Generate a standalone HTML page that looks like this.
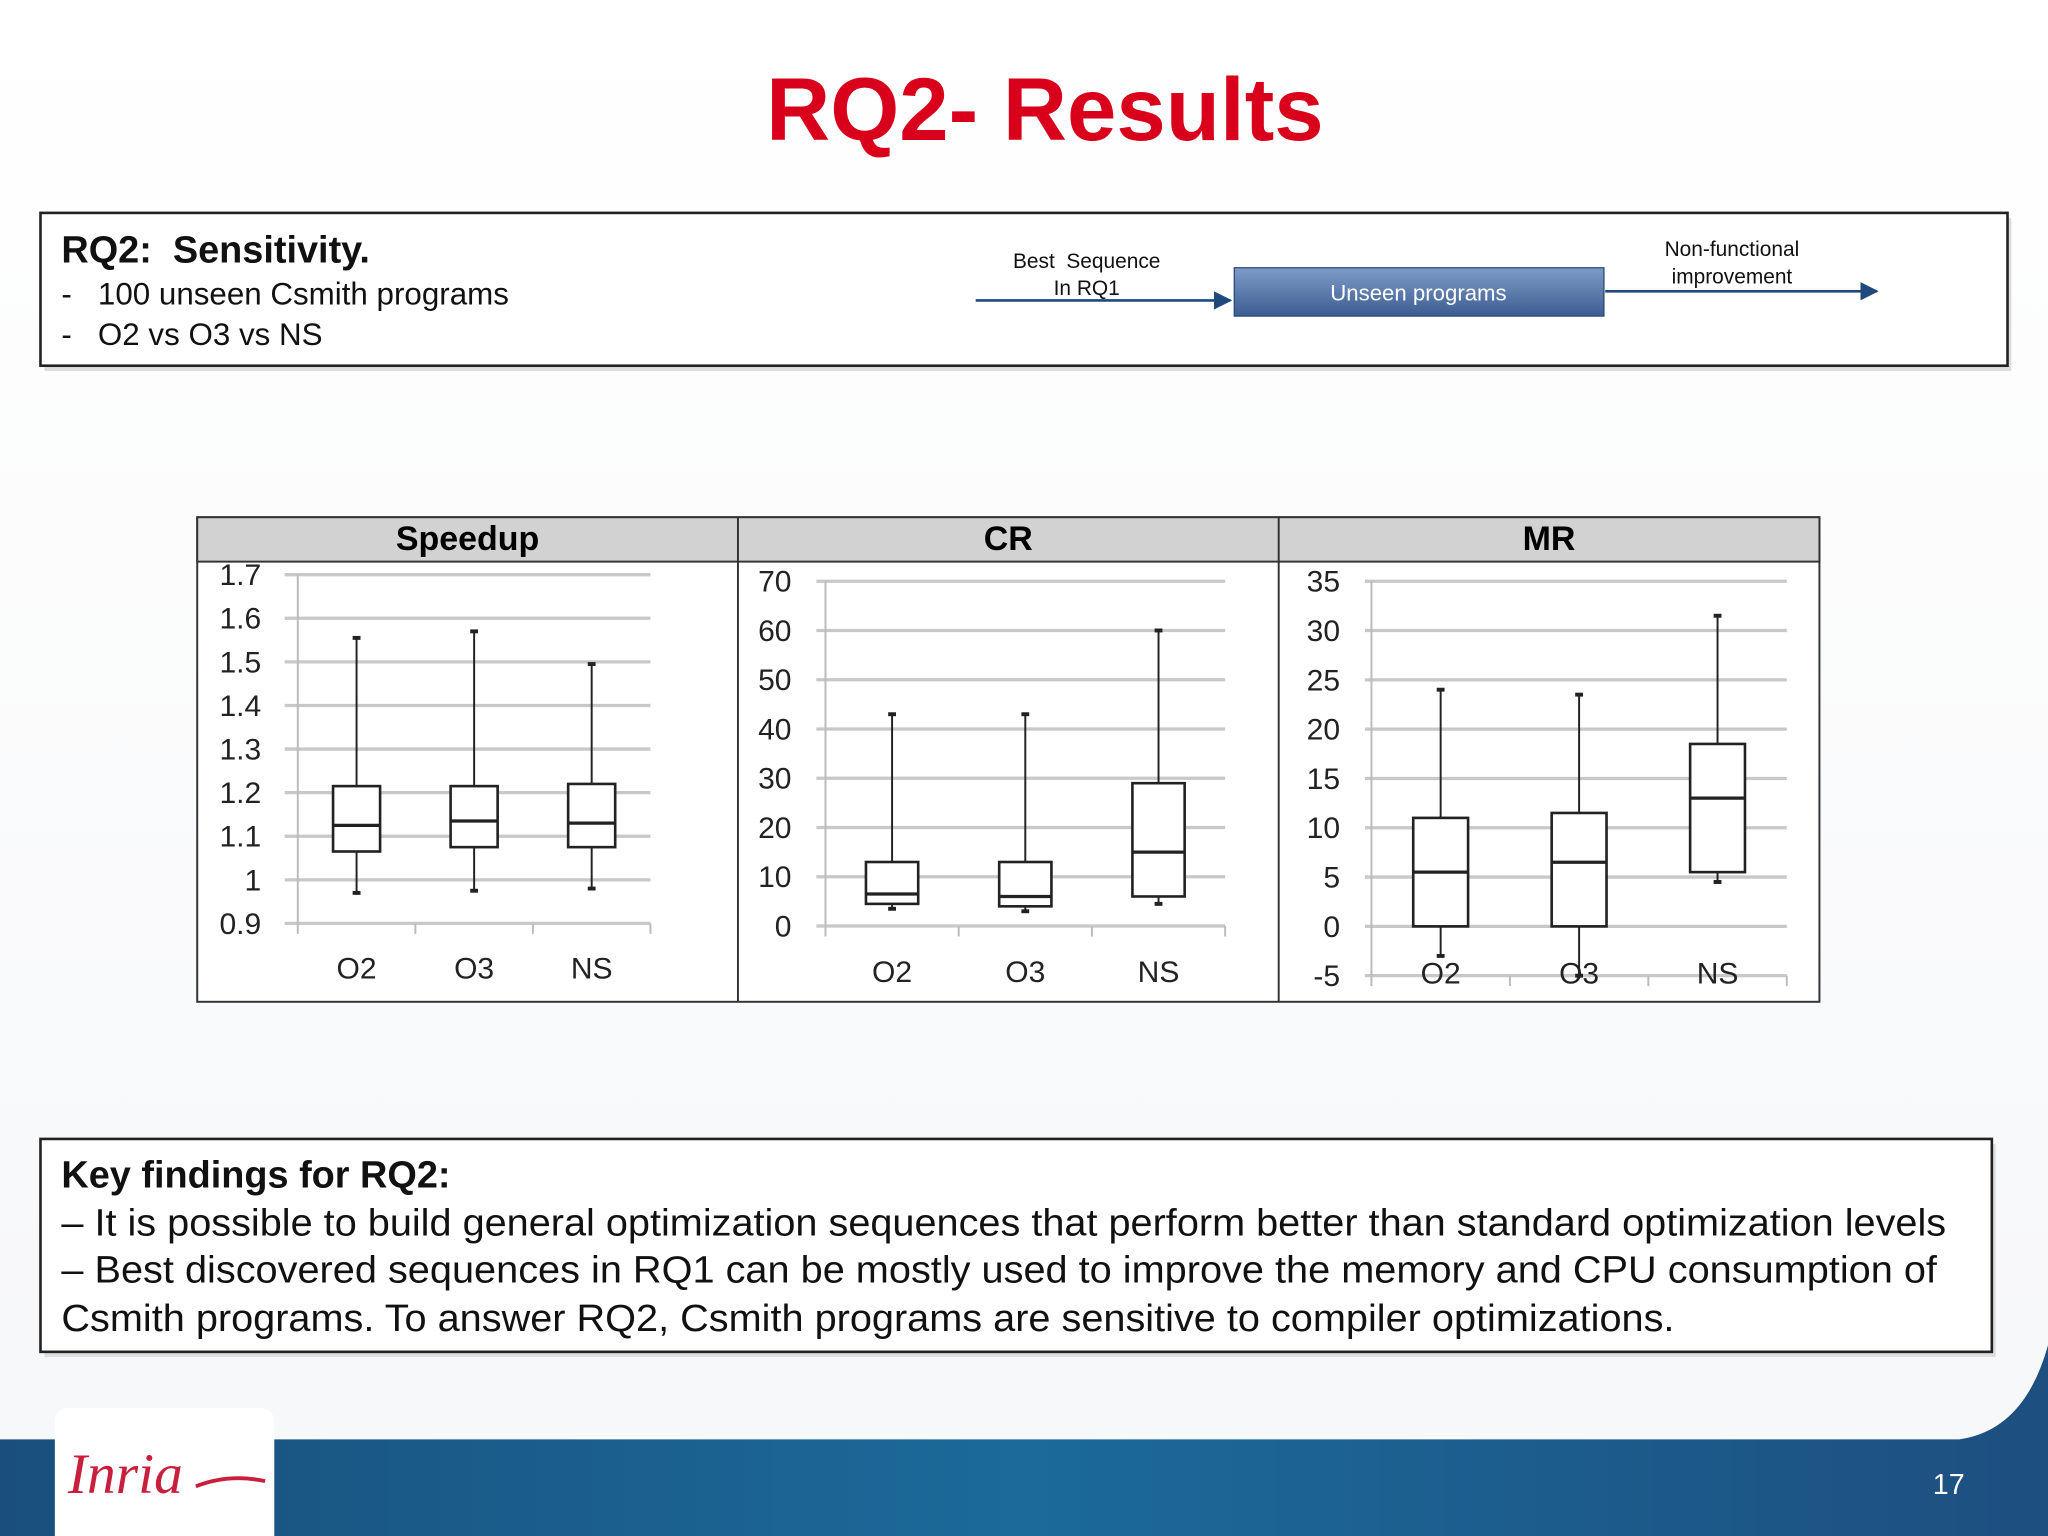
<!DOCTYPE html>
<html><head><meta charset="utf-8"><style>
html,body{margin:0;padding:0;background:#fff;}
svg{display:block;font-family:"Liberation Sans",sans-serif;}
</style></head><body>
<svg id="slide" width="2048" height="1536" viewBox="0 0 1568 1176" xmlns="http://www.w3.org/2000/svg">
<defs>
<linearGradient id="bg" x1="0" y1="0" x2="0" y2="1"><stop offset="0" stop-color="#ffffff"/><stop offset="1" stop-color="#f6f7f9"/></linearGradient>
<linearGradient id="band" x1="0" y1="0" x2="1" y2="0"><stop offset="0" stop-color="#1a4f7c"/><stop offset="0.5" stop-color="#1b6a9a"/><stop offset="1" stop-color="#1d4f80"/></linearGradient>
<linearGradient id="btn" x1="0" y1="0" x2="0" y2="1"><stop offset="0" stop-color="#7f9cc8"/><stop offset="1" stop-color="#3c5d92"/></linearGradient>
<marker id="arr" viewBox="0 0 10 10" refX="9" refY="5" markerWidth="7" markerHeight="7" orient="auto"><path d="M0,0L10,5L0,10z" fill="#1f497d"/></marker>
</defs>
<rect width="1568" height="1176" fill="url(#bg)"/>
<text x="800" y="107" text-anchor="middle" font-size="68" font-weight="bold" fill="#d9001b">RQ2- Results</text>

<g>
<rect x="34" y="167" width="1506" height="117" fill="#ddd"/>
<rect x="31" y="163" width="1506" height="117" fill="#fff" stroke="#222" stroke-width="2"/>
<text x="47" y="201" font-size="29" font-weight="bold" fill="#111">RQ2:&#160; Sensitivity.</text>
<text x="47" y="233" font-size="24" fill="#111">-&#160;&#160;&#160;100 unseen Csmith programs</text>
<text x="47" y="264" font-size="24" fill="#111">-&#160;&#160;&#160;O2 vs O3 vs NS</text>
<text x="832" y="205" text-anchor="middle" font-size="16" fill="#111">Best&#160; Sequence</text>
<text x="832" y="226" text-anchor="middle" font-size="16" fill="#111">In RQ1</text>
<line x1="747" y1="230" x2="942" y2="230" stroke="#1f497d" stroke-width="2" marker-end="url(#arr)"/>
<rect x="945" y="205" width="283" height="37" fill="url(#btn)" stroke="#2c4a7a"/>
<text x="1086" y="230" text-anchor="middle" font-size="17" fill="#fff">Unseen programs</text>
<line x1="1229" y1="223" x2="1437" y2="223" stroke="#1f497d" stroke-width="2" marker-end="url(#arr)"/>
<text x="1326" y="196" text-anchor="middle" font-size="16" fill="#111">Non-functional</text>
<text x="1326" y="217" text-anchor="middle" font-size="16" fill="#111">improvement</text>
</g>

<g id="charts">
<rect x="151" y="396" width="1242" height="371" fill="#fff" stroke="#333" stroke-width="1.5"/>
<rect x="151" y="396" width="1242" height="34" fill="#d2d2d2" stroke="#333" stroke-width="1.5"/>
<line x1="565" y1="396" x2="565" y2="767" stroke="#333" stroke-width="1.5"/>
<line x1="979" y1="396" x2="979" y2="767" stroke="#333" stroke-width="1.5"/>
<text x="358" y="421" text-anchor="middle" font-size="26" font-weight="bold">Speedup</text>
<text x="772" y="421" text-anchor="middle" font-size="26" font-weight="bold">CR</text>
<text x="1186" y="421" text-anchor="middle" font-size="26" font-weight="bold">MR</text>
</g>

<g>
<rect x="34" y="876" width="1494" height="163" fill="#ddd"/>
<rect x="31" y="872" width="1494" height="163" fill="#fff" stroke="#222" stroke-width="2"/>
<text x="47" y="909" font-size="29" font-weight="bold" fill="#111">Key findings for RQ2:</text>
<text x="47" y="946" font-size="29" fill="#111" textLength="1443" lengthAdjust="spacingAndGlyphs">– It is possible to build general optimization sequences that perform better than standard optimization levels</text>
<text x="47" y="982" font-size="29" fill="#111" textLength="1436" lengthAdjust="spacingAndGlyphs">– Best discovered sequences in RQ1 can be mostly used to improve the memory and CPU consumption of</text>
<text x="47" y="1019" font-size="29" fill="#111" textLength="1235" lengthAdjust="spacingAndGlyphs">Csmith programs. To answer RQ2, Csmith programs are sensitive to compiler optimizations.</text>
</g>

<g>
<path d="M0,1102 L1500,1102 Q1550,1095 1568,1030 L1568,1176 L0,1176 Z" fill="url(#band)"/>
<rect x="42" y="1078" width="168" height="110" rx="10" fill="#fff"/>
<text x="52" y="1143" font-size="44" font-style="italic" font-family="Liberation Serif, serif" fill="#c8203c">Inria</text>
<path d="M150,1138 Q175,1128 203,1134" stroke="#c8203c" stroke-width="3" fill="none"/>
<text x="1492" y="1144" text-anchor="middle" font-size="22" fill="#fff">17</text>
</g>
</svg>
<script>
const cats = ["O2","O3","NS"];
// Speedup
const spTicks = [0.9,1,1.1,1.2,1.3,1.4,1.5,1.6,1.7];
const spTickLabels = ["0.9","1","1.1","1.2","1.3","1.4","1.5","1.6","1.7"];
const spMin = [0.97,0.975,0.98];
const spQ1 = [1.065,1.075,1.075];
const spMed = [1.125,1.135,1.13];
const spQ3 = [1.215,1.215,1.22];
const spMax = [1.555,1.57,1.495];
// CR
const crTicks = [0,10,20,30,40,50,60,70];
const crTickLabels = ["0","10","20","30","40","50","60","70"];
const crMin = [3.5,3,4.5];
const crQ1 = [4.5,4,6];
const crMed = [6.5,6,15];
const crQ3 = [13,13,29];
const crMax = [43,43,60];
// MR
const mrTicks = [-5,0,5,10,15,20,25,30,35];
const mrTickLabels = ["-5","0","5","10","15","20","25","30","35"];
const mrMin = [-3,-5,4.5];
const mrQ1 = [0,0,5.5];
const mrMed = [5.5,6.5,13];
const mrQ3 = [11,11.5,18.5];
const mrMax = [24,23.5,31.5];

const NS = "http://www.w3.org/2000/svg";
const root = document.getElementById("charts");
function mk(tag, attrs, parent){const e=document.createElementNS(NS,tag);for(const k in attrs)e.setAttribute(k,attrs[k]);(parent||root).appendChild(e);return e;}

function panel(name, ticks, labels, mins, q1s, meds, q3s, maxs, cfg){
  const g = mk("g",{});
  
  
  const y = v => cfg.y0 + (v - cfg.v0) * (cfg.y1 - cfg.y0) / (cfg.v1 - cfg.v0);
  ticks.forEach((t,i)=>{
    const ln = mk("line",{x1:cfg.gx0,x2:cfg.gx1,y1:y(t),y2:y(t),stroke:"#c8c8c8","stroke-width":2.5},g);
    
    
    const tx = mk("text",{x:cfg.lx,y:y(t)+8,"text-anchor":"end","font-size":23,fill:"#222"},g);
    tx.textContent = labels[i];
    
    
  });
  const bottom = y(ticks[0]);
  mk("line",{x1:cfg.ax,x2:cfg.ax,y1:y(ticks[ticks.length-1]),y2:bottom+8,stroke:"#bbb","stroke-width":1.5},g);
  const step = (cfg.gx1 - cfg.ax)/cats.length;
  for(let i=1;i<=cats.length;i++) mk("line",{x1:cfg.ax+step*i,x2:cfg.ax+step*i,y1:bottom,y2:bottom+8,stroke:"#bbb","stroke-width":1.5},g);
  cats.forEach((c,i)=>{
    const cx = cfg.ax + step*(i+0.5);
    const bw = cfg.bw;
    const bg = mk("g",{},g);
    
    
    mk("line",{x1:cx,x2:cx,y1:y(maxs[i]),y2:y(q3s[i]),stroke:"#222","stroke-width":1.5},bg);
    mk("line",{x1:cx,x2:cx,y1:y(q1s[i]),y2:y(mins[i]),stroke:"#222","stroke-width":1.5},bg);
    mk("line",{x1:cx-3,x2:cx+3,y1:y(maxs[i]),y2:y(maxs[i]),stroke:"#222","stroke-width":3},bg);
    mk("line",{x1:cx-3,x2:cx+3,y1:y(mins[i]),y2:y(mins[i]),stroke:"#222","stroke-width":3},bg);
    mk("rect",{x:cx-bw/2,y:y(q3s[i]),width:bw,height:y(q1s[i])-y(q3s[i]),fill:"#fff",stroke:"#222","stroke-width":2},bg);
    mk("line",{x1:cx-bw/2,x2:cx+bw/2,y1:y(meds[i]),y2:y(meds[i]),stroke:"#222","stroke-width":2.5},bg);
    const lt = mk("text",{x:cx,y:cfg.ly,"text-anchor":"middle","font-size":23,fill:"#222"},g);
    lt.textContent = c;
    
    
  });
}
panel("speedup", spTicks, spTickLabels, spMin, spQ1, spMed, spQ3, spMax,
  {v0:0.9,v1:1.7,y0:707,y1:440,gx0:218,gx1:498,ax:228,lx:200,ly:749,bw:36});
panel("cr", crTicks, crTickLabels, crMin, crQ1, crMed, crQ3, crMax,
  {v0:0,v1:70,y0:709,y1:445,gx0:625,gx1:938,ax:632,lx:606,ly:752,bw:40});
panel("mr", mrTicks, mrTickLabels, mrMin, mrQ1, mrMed, mrQ3, mrMax,
  {v0:-5,v1:35,y0:747,y1:445,gx0:1045,gx1:1368,ax:1050,lx:1026,ly:753,bw:42});
</script>
</body></html>
